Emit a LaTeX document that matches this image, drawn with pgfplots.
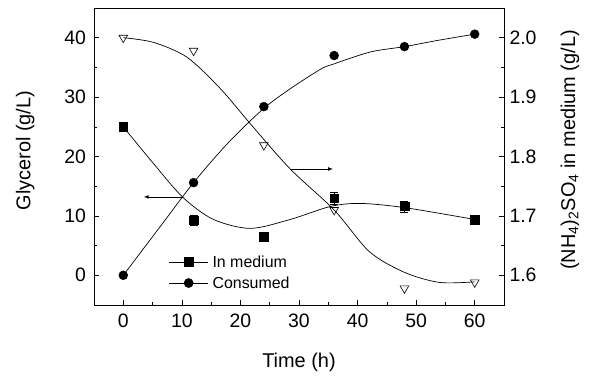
\documentclass[border=0pt]{standalone}
\usepackage{fontspec}
\setmainfont{Liberation Sans}
\usepackage{pgfplots}
\pgfplotsset{compat=1.18}
\begin{document}
\begin{tikzpicture}
\path[use as bounding box] (-94bp,-71bp) rectangle (500bp,305bp);
\pgfplotsset{
  common/.style={
    scale only axis, width=410bp, height=297bp,
    xmin=-5, xmax=65,
    tick align=inside,
    major tick length=5bp, minor tick length=3bp,
    every tick/.style={black, line width=0.6pt},
    axis line style={line width=0.8pt},
    /pgf/number format/assume math mode=true,
    tick label style={font=\fontsize{19.5}{21}\selectfont},
    label style={font=\fontsize{20}{22}\selectfont},
  }
}
\begin{axis}[common,
  ymin=-5, ymax=45,
  xtick={0,10,20,30,40,50,60}, minor x tick num=1,
  ytick={0,10,20,30,40}, minor y tick num=1,
  xtick pos=left, ytick pos=left,
  xticklabel style={yshift=-5bp},
  yticklabel style={xshift=-4.5bp},
  xlabel={Time (h)}, ylabel={Glycerol (g/L)},
  xlabel style={at={(axis description cs:0.5,-0.192)}, anchor=center},
  ylabel style={at={(axis description cs:-0.168,0.52)}, anchor=center},
  legend style={draw=none, fill=none, at={(0.182,0.048)}, anchor=south west,
    font=\fontsize{16}{18}\selectfont, row sep=6bp, inner sep=0pt, nodes={inner sep=1bp}},
  legend cell align=left,
  legend image code/.code={\draw[mark repeat=2, mark phase=2, #1] plot coordinates {(0bp,0bp) (19.5bp,0bp) (39bp,0bp)}; \path (42bp,0bp);},
]
% fit curves
\addplot[black, line width=0.7pt, smooth, tension=0.5, forget plot] coordinates {
 (0,25) (5,19) (10.2,13.1) (15.4,9.4) (21.7,7.9) (28.5,9.4) (35.4,11.6) (40.5,12.1) (48,11.4) (60,9.4)};
\addplot[black, line width=0.7pt, smooth, tension=0.5, forget plot] coordinates {
 (0,0) (6,7.8) (12,15.6) (18,22.4) (24,28.1) (28.5,31.4) (33.7,34.7) (36,35.6) (42.2,37.6) (48,38.5) (54,39.6) (60,40.6)};
% data
\addplot[black, only marks, mark=square*, mark size=4.3pt, forget plot,
  error bars/.cd, y dir=both, y explicit, error bar style={line width=0.7pt},
  error mark options={rotate=90, mark size=4pt}] coordinates {
 (0,25) +- (0,0) (12,9.3) +- (0,0.9) (24,6.5) +- (0,0.3) (36,13.0) +- (0,1.0) (48,11.6) +- (0,0.9) (60,9.4) +- (0,0.3)};
\addplot[black, only marks, mark=*, mark size=4.5pt, forget plot] coordinates {
 (0,0) (12,15.6) (24,28.4) (36,37.0) (48,38.5) (60,40.6)};
% arrows
\addplot[black, line width=0.7pt, -latex, forget plot] coordinates {(10.2,13.2) (3.5,13.2)};
\addplot[black, line width=0.7pt, -latex, forget plot] coordinates {(28.5,17.9) (35.8,17.9)};
\addlegendimage{black, line width=0.7pt, mark=square*, mark size=4.3pt}
\addlegendentry{In medium}
\addlegendimage{black, line width=0.7pt, mark=*, mark size=4.5pt}
\addlegendentry{Consumed}
\end{axis}
\begin{axis}[common,
  ymin=1.55, ymax=2.05,
  axis x line=none, axis y line*=right,
  ytick={1.6,1.7,1.8,1.9,2.0}, minor y tick num=1,
  yticklabel style={/pgf/number format/.cd, fixed, fixed zerofill, precision=1, /tikz/.cd, xshift=2bp},
  ylabel={(NH\textsubscript{4})\textsubscript{2}SO\textsubscript{4} in medium (g/L)},
  ylabel style={at={(axis description cs:1.161,0.522)}, anchor=center, rotate=0},
]
\addplot[black, line width=0.7pt, smooth, tension=0.5] coordinates {
 (0,2.0) (5.2,1.992) (10.9,1.967) (16.6,1.914) (21.7,1.855) (28.5,1.779) (36,1.71) (42,1.64) (48,1.605) (54,1.588) (60,1.589)};
\addplot[black, only marks, mark=triangle, mark size=5pt, mark options={rotate=180, fill=white, line width=0.6pt}] coordinates {
 (0,2.0) (12,1.978) (24,1.819) (36,1.710) (48,1.578) (60,1.588)};
\end{axis}
\end{tikzpicture}
\end{document}
